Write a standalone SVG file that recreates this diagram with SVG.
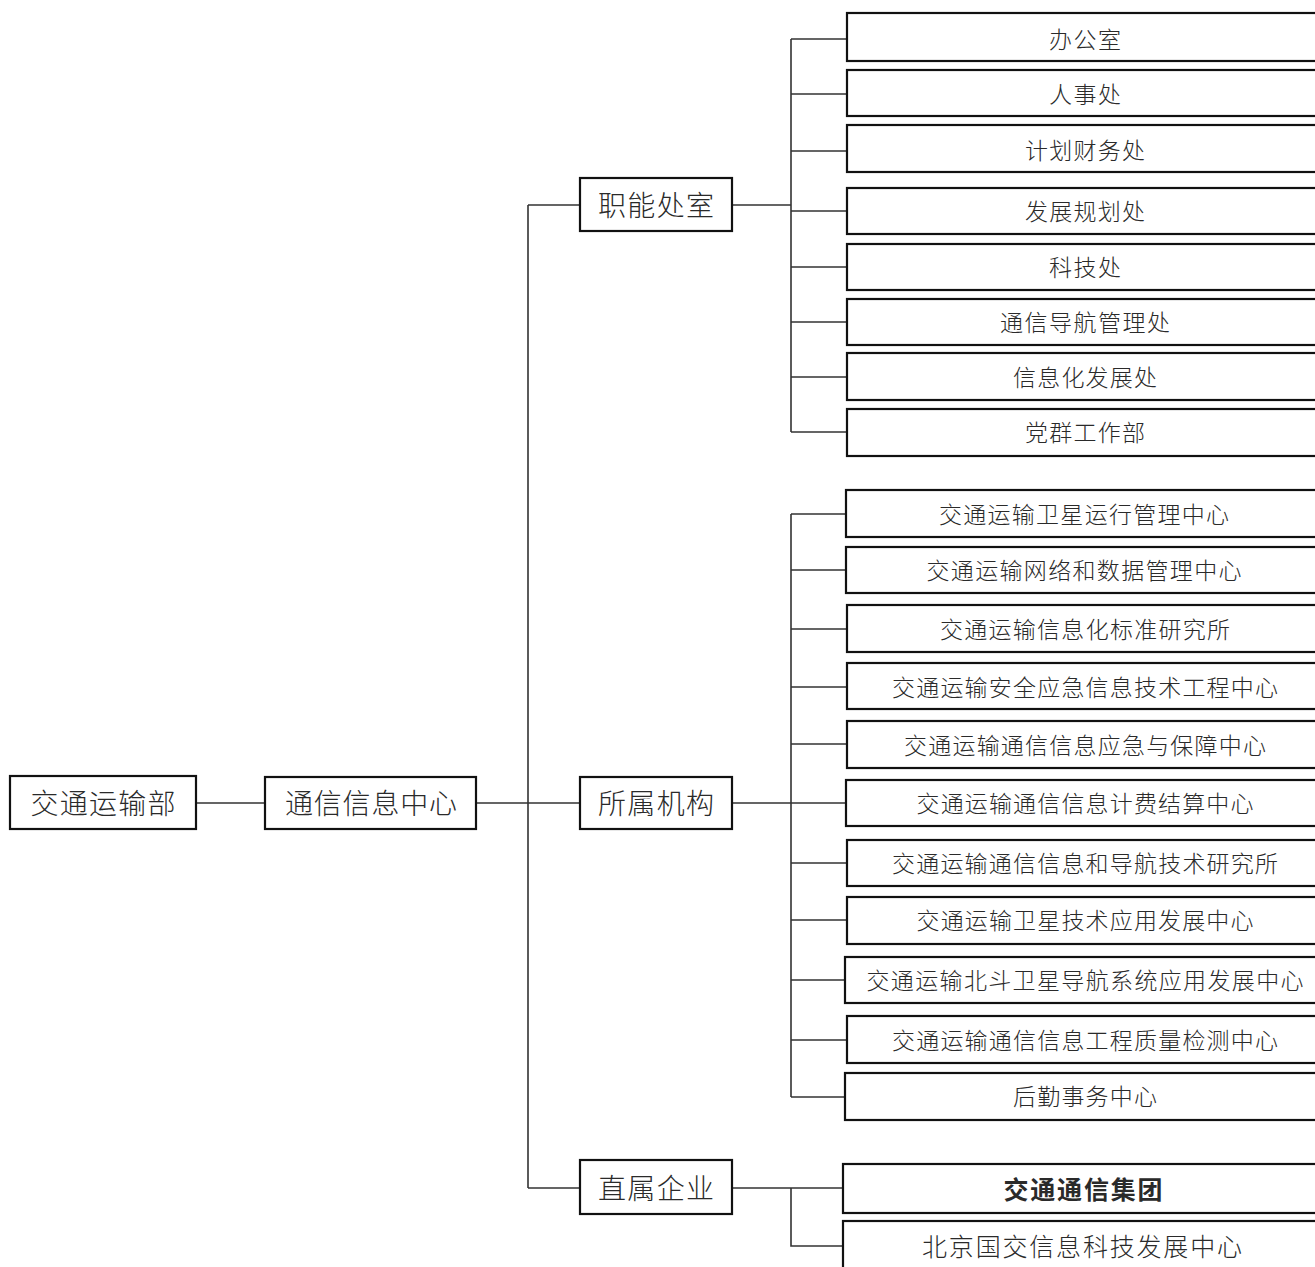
<svg xmlns="http://www.w3.org/2000/svg" width="1315" height="1267" viewBox="0 0 1315 1267">
<style>
.box{fill:#fff;stroke:#111;stroke-width:2.2}
.t{font-family:"Noto Sans CJK SC","Noto Sans CJK JP",sans-serif;fill:#2a2a2a;text-anchor:middle;dominant-baseline:central;font-weight:300}
.big{font-size:28px}
.sm{font-size:23px}
.md{font-size:25px}
.b{font-weight:600}
.ln{fill:none;stroke:#333;stroke-width:1.6}
</style>
<rect width="1315" height="1267" fill="#fff"/>
<g id="connectors">
<path class="ln" d="M196 803H265M476 803H580M528 205V1188M528 205H580M528 1188H580"/>
<path class="ln" d="M732 205H791M791 39V432M791 39H847M791 94H847M791 151H847M791 211H847M791 267H847M791 322H847M791 377H847M791 432H847"/>
<path class="ln" d="M732 803H791M791 514V1097M791 514H846M791 570H846M791 629H846M791 687H846M791 744H846M791 803H846M791 863H846M791 920H846M791 980H846M791 1040H846M791 1097H846"/>
<path class="ln" d="M732 1188H843M791 1188V1246H843"/>
</g>
<g id="n-jtysb"><rect class="box" x="10" y="776" width="186" height="53"/><text class="t big" x="103" y="802" textLength="145" lengthAdjust="spacing">交通运输部</text></g>
<g id="n-txxxzx"><rect class="box" x="265" y="777" width="211" height="52"/><text class="t big" x="371" y="802" textLength="172" lengthAdjust="spacing">通信信息中心</text></g>
<g id="n-zncs"><rect class="box" x="580" y="178" width="152" height="53"/><text class="t big" x="656" y="204" textLength="116" lengthAdjust="spacing">职能处室</text></g>
<g id="n-ssjg"><rect class="box" x="580" y="777" width="152" height="52"/><text class="t big" x="656" y="802" textLength="116" lengthAdjust="spacing">所属机构</text></g>
<g id="n-zsqy"><rect class="box" x="580" y="1160" width="152" height="54"/><text class="t big" x="656" y="1187" textLength="116" lengthAdjust="spacing">直属企业</text></g>

<g id="n-bgs"><rect class="box" x="847" y="13" width="476" height="48"/><text class="t sm" x="1085" y="38" textLength="72" lengthAdjust="spacing">办公室</text></g>
<g id="n-rsc"><rect class="box" x="847" y="70" width="476" height="46"/><text class="t sm" x="1085" y="93" textLength="72" lengthAdjust="spacing">人事处</text></g>
<g id="n-jhcwc"><rect class="box" x="847" y="125" width="476" height="47"/><text class="t sm" x="1085" y="149" textLength="120" lengthAdjust="spacing">计划财务处</text></g>
<g id="n-fzghc"><rect class="box" x="847" y="188" width="476" height="46"/><text class="t sm" x="1085" y="210" textLength="120" lengthAdjust="spacing">发展规划处</text></g>
<g id="n-kjc"><rect class="box" x="847" y="244" width="476" height="46"/><text class="t sm" x="1085" y="266" textLength="72" lengthAdjust="spacing">科技处</text></g>
<g id="n-txdhglc"><rect class="box" x="847" y="299" width="476" height="46"/><text class="t sm" x="1085" y="321" textLength="170" lengthAdjust="spacing">通信导航管理处</text></g>
<g id="n-xxhfzc"><rect class="box" x="847" y="353" width="476" height="47"/><text class="t sm" x="1085" y="376" textLength="144" lengthAdjust="spacing">信息化发展处</text></g>
<g id="n-dqgzb"><rect class="box" x="847" y="409" width="476" height="47"/><text class="t sm" x="1085" y="431" textLength="120" lengthAdjust="spacing">党群工作部</text></g>

<g id="n-s1"><rect class="box" x="846" y="490" width="477" height="47"/><text class="t sm" x="1084" y="513" textLength="290" lengthAdjust="spacing">交通运输卫星运行管理中心</text></g>
<g id="n-s2"><rect class="box" x="846" y="547" width="477" height="46"/><text class="t sm" x="1084" y="569" textLength="315" lengthAdjust="spacing">交通运输网络和数据管理中心</text></g>
<g id="n-s3"><rect class="box" x="847" y="605" width="476" height="47"/><text class="t sm" x="1085" y="628" textLength="290" lengthAdjust="spacing">交通运输信息化标准研究所</text></g>
<g id="n-s4"><rect class="box" x="847" y="663" width="476" height="46"/><text class="t sm" x="1085" y="686" textLength="386" lengthAdjust="spacing">交通运输安全应急信息技术工程中心</text></g>
<g id="n-s5"><rect class="box" x="847" y="721" width="476" height="47"/><text class="t sm" x="1085" y="744" textLength="362" lengthAdjust="spacing">交通运输通信信息应急与保障中心</text></g>
<g id="n-s6"><rect class="box" x="846" y="780" width="477" height="46"/><text class="t sm" x="1085" y="802" textLength="337" lengthAdjust="spacing">交通运输通信信息计费结算中心</text></g>
<g id="n-s7"><rect class="box" x="847" y="840" width="476" height="46"/><text class="t sm" x="1085" y="862" textLength="386" lengthAdjust="spacing">交通运输通信信息和导航技术研究所</text></g>
<g id="n-s8"><rect class="box" x="847" y="897" width="476" height="47"/><text class="t sm" x="1085" y="919" textLength="337" lengthAdjust="spacing">交通运输卫星技术应用发展中心</text></g>
<g id="n-s9"><rect class="box" x="845" y="957" width="478" height="46"/><text class="t sm" x="1085" y="979" textLength="437" lengthAdjust="spacing">交通运输北斗卫星导航系统应用发展中心</text></g>
<g id="n-s10"><rect class="box" x="847" y="1016" width="476" height="47"/><text class="t sm" x="1085" y="1039" textLength="386" lengthAdjust="spacing">交通运输通信信息工程质量检测中心</text></g>
<g id="n-s11"><rect class="box" x="845" y="1073" width="478" height="47"/><text class="t sm" x="1085" y="1095" textLength="144" lengthAdjust="spacing">后勤事务中心</text></g>

<g id="n-jttxjt"><rect class="box" x="843" y="1164" width="480" height="49"/><text class="t md b" x="1083" y="1188" textLength="159" lengthAdjust="spacing">交通通信集团</text></g>
<g id="n-bjgj"><rect class="box" x="843" y="1221" width="480" height="56"/><text class="t md" x="1082" y="1245" textLength="320" lengthAdjust="spacing">北京国交信息科技发展中心</text></g>
</svg>
